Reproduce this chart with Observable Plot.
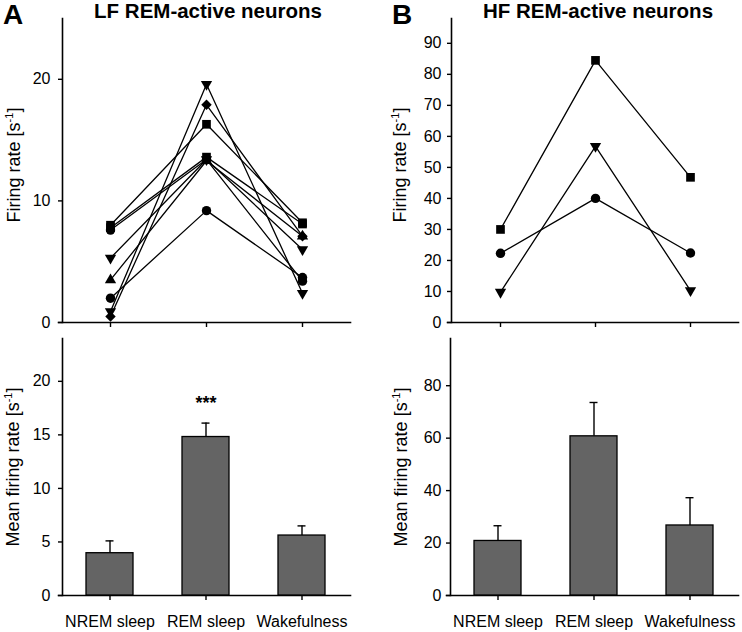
<!DOCTYPE html>
<html><head><meta charset="utf-8">
<script src="https://cdn.jsdelivr.net/npm/d3@7"></script>
<script src="https://cdn.jsdelivr.net/npm/@observablehq/plot@0.6"></script>
<style>
body{margin:0;background:#fff;font-family:"Liberation Sans",Arial,sans-serif;}
#root{position:relative;width:742px;height:632px;overflow:hidden;background:#fff;}
.panel{position:absolute;}
.lbl{position:absolute;transform:translate(-50%,-50%) rotate(-90deg);white-space:nowrap;font-size:18px;color:#000;}
.lbl sup{font-size:11px;}
.letter{position:absolute;font-weight:bold;font-size:28px;line-height:1;}
.title{position:absolute;font-weight:bold;font-size:20.5px;line-height:1;transform:translateX(-50%);white-space:nowrap;}
</style></head>
<body><div id="root"></div>
<script>
const states = ["NREM sleep", "REM sleep", "Wakefulness"];

// LF REM-active neurons (individual firing rates, s^-1)
const lfSymbols = ["square", "square", "circle", "triangle-down", "triangle", "circle", "triangle-down", "diamond2"];
const lfNREM = [8.0, 7.8, 7.6, 5.3, 3.5, 2.0, 0.9, 0.5];
const lfREM  = [16.3, 13.6, 13.4, 13.4, 13.3, 9.2, 19.6, 17.9];
const lfWake = [8.2, 8.1, 3.4, 6.0, 7.1, 3.7, 2.4, 7.1];

// HF REM-active neurons
const hfSymbols = ["square", "circle", "triangle-down"];
const hfNREM = [30.0, 22.3, 9.8];
const hfREM  = [84.5, 40.0, 56.8];
const hfWake = [46.8, 22.4, 10.3];

// Means and SEM
const lfMean = [3.95, 14.8, 5.6];
const lfSem  = [1.15, 1.3, 0.9];
const hfMean = [20.8, 60.7, 26.7];
const hfSem  = [5.8, 12.9, 10.6];
const sigMarks = ["", "***", ""];

const lfTicks = [0, 10, 20];
const hfTicks = [0, 10, 20, 30, 40, 50, 60, 70, 80, 90];
const lfMeanTicks = [0, 5, 10, 15, 20];
const hfMeanTicks = [0, 20, 40, 60, 80];

const root = document.getElementById("root");
const FONT = "'Liberation Sans', Arial, sans-serif";

function rowsOf(symbols, n, r, w) {
  const rows = [];
  symbols.forEach((s, i) => {
    rows.push({id: i, state: states[0], rate: n[i], sym: s});
    rows.push({id: i, state: states[1], rate: r[i], sym: s});
    rows.push({id: i, state: states[2], rate: w[i], sym: s});
  });
  return rows;
}

function linePanel(rows, yDomain, ticks, ml, mr, pad) {
  const symMarks = [];
  for (const s of ["circle", "square", "triangle", "triangle-down", "diamond2"]) {
    const sub = rows.filter(d => d.sym === s);
    if (!sub.length) continue;
    const isTri = s.startsWith("triangle");
    symMarks.push(Plot.dot(sub, {
      x: "state", y: "rate",
      symbol: isTri ? "triangle" : s,
      rotate: s === "triangle-down" ? 180 : 0,
      r: isTri ? 4.2 : (s === "square" ? 4.9 : 4.7),
      fill: "black", stroke: "none"
    }));
  }
  return Plot.plot({
    width: 371, height: 330,
    marginLeft: ml, marginRight: mr, marginTop: 18, marginBottom: 8,
    style: {fontFamily: FONT, fontSize: "16px", color: "black", background: "white"},
    x: {type: "point", domain: states, padding: 0.5},
    y: {domain: yDomain},
    marks: [
      Plot.frame({anchor: "left", strokeWidth: 1.6}),
      Plot.frame({anchor: "bottom", strokeWidth: 1.6, insetLeft: -4}),
      Plot.axisY({ticks, tickSize: 4, tickPadding: pad, label: null, strokeWidth: 1.4}),
      Plot.axisX({tickSize: 5, tickFormat: () => "", label: null, strokeWidth: 1.4}),
      Plot.line(rows, {x: "state", y: "rate", z: "id", stroke: "black", strokeWidth: 1.3}),
      ...symMarks
    ]
  });
}

function barPanel(mean, sem, yDomain, ticks, ml, mr, pad, sig) {
  const data = states.map((s, i) => ({state: s, mean: mean[i], hi: mean[i] + sem[i], sig: sig ? sig[i] : ""}));
  return Plot.plot({
    width: 371, height: 302,
    marginLeft: ml, marginRight: mr, marginTop: 8, marginBottom: 37,
    style: {fontFamily: FONT, fontSize: "16px", color: "black", background: "white"},
    x: {type: "band", domain: states, paddingInner: 0.51, paddingOuter: 0.255},
    y: {domain: yDomain},
    marks: [
      Plot.frame({anchor: "left", strokeWidth: 1.6}),
      Plot.frame({anchor: "bottom", strokeWidth: 1.6, insetLeft: -4}),
      Plot.axisY({ticks, tickSize: 4, tickPadding: pad, label: null, strokeWidth: 1.4}),
      Plot.axisX({tickSize: 5, tickPadding: 15, label: null, strokeWidth: 1.4}),
      Plot.ruleX(data, {x: "state", y1: "mean", y2: "hi", stroke: "black", strokeWidth: 1.4}),
      Plot.tickY(data, {x: "state", y: "hi", stroke: "black", strokeWidth: 1.4, insetLeft: 19.5, insetRight: 19.5}),
      Plot.barY(data, {x: "state", y: "mean", fill: "#646464", stroke: "black", strokeWidth: 1.3}),
      Plot.text(data, {x: "state", y: "hi", text: "sig", dy: -20, fontSize: 18, fontWeight: "bold"})
    ]
  });
}

function place(node, left, top) {
  node.classList.add("panel");
  node.style.left = left + "px";
  node.style.top = top + "px";
  root.appendChild(node);
}

place(linePanel(rowsOf(lfSymbols, lfNREM, lfREM, lfWake), [0, 25], lfTicks, 62, 21, 8), 0, 0);
place(linePanel(rowsOf(hfSymbols, hfNREM, hfREM, hfWake), [0, 98], hfTicks, 80, 4, 6), 371, 0);
place(barPanel(lfMean, lfSem, [0, 24], lfMeanTicks, 62, 21, 8, sigMarks), 0, 330);
place(barPanel(hfMean, hfSem, [0, 98], hfMeanTicks, 79, 4, 5, null), 371, 330);

function addHTML(cls, html, left, top) {
  const d = document.createElement("div");
  d.className = cls;
  d.innerHTML = html;
  d.style.left = left + "px";
  d.style.top = top + "px";
  root.appendChild(d);
}
addHTML("letter", "A", 3, 1);
addHTML("letter", "B", 392, 1);
addHTML("title", "LF REM-active neurons", 208, 1);
addHTML("title", "HF REM-active neurons", 598, 1);
addHTML("lbl", "Firing rate [s<sup>-1</sup>]", 14, 165);
addHTML("lbl", "Firing rate [s<sup>-1</sup>]", 400, 165);
addHTML("lbl", "Mean firing rate [s<sup>-1</sup>]", 13, 467);
addHTML("lbl", "Mean firing rate [s<sup>-1</sup>]", 401, 467);
</script>
</body></html>
